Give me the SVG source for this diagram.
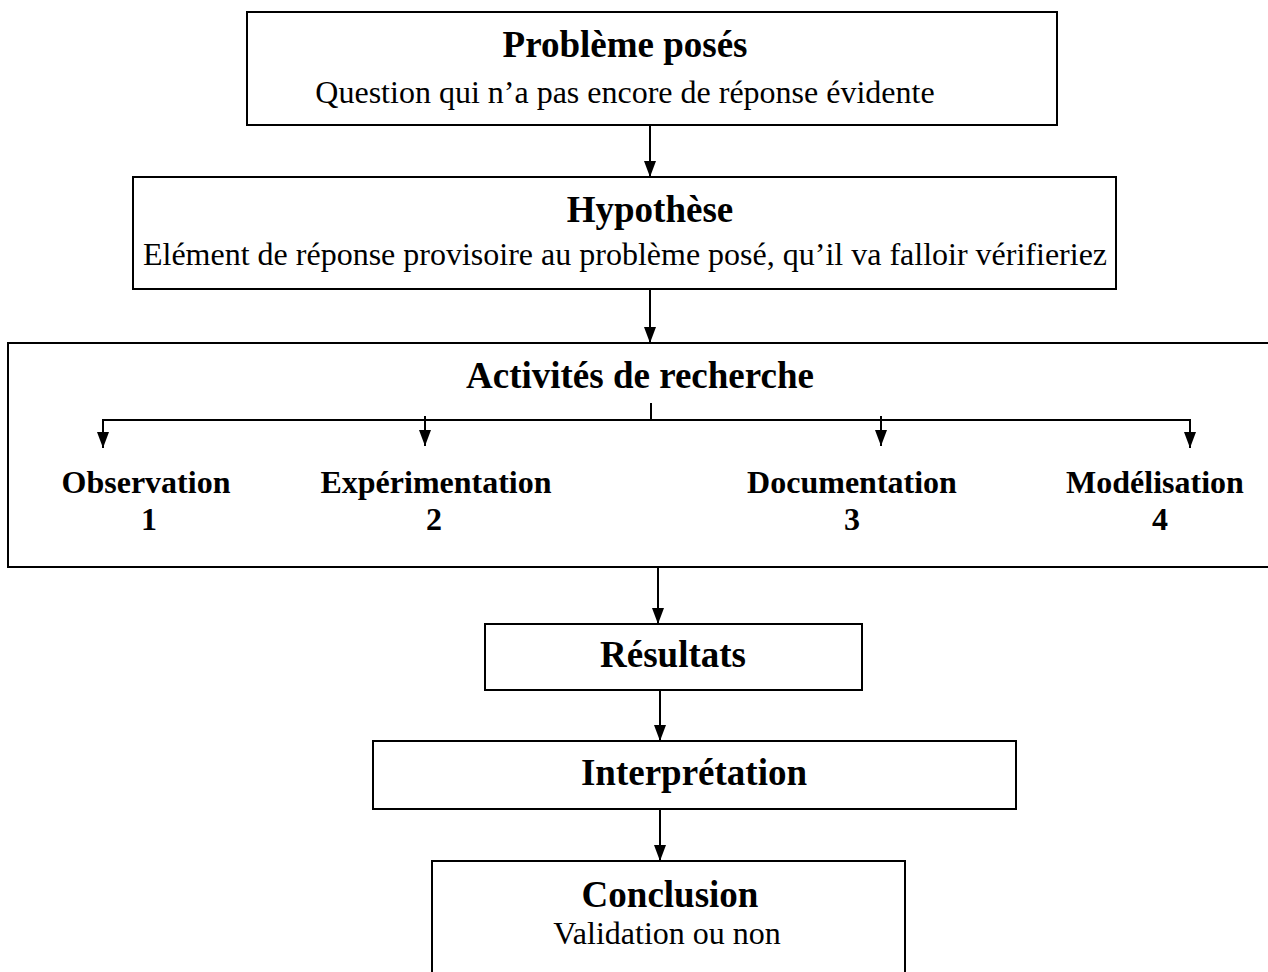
<svg xmlns="http://www.w3.org/2000/svg" width="1268" height="972" viewBox="0 0 1268 972">
<defs>
<style>
.box{fill:#fff;stroke:#000;stroke-width:2}
.t{font-family:"Liberation Serif","Times New Roman",serif;font-weight:bold;font-size:37px;text-anchor:middle;fill:#000}
.s{font-family:"Liberation Serif","Times New Roman",serif;font-size:32px;text-anchor:middle;fill:#000}
.l{font-family:"Liberation Serif","Times New Roman",serif;font-weight:bold;font-size:32px;text-anchor:middle;fill:#000}
.c{fill:none;stroke:#000;stroke-width:2}
</style>
<marker id="ah" viewBox="0 0 16 12" refX="16" refY="6" markerWidth="16" markerHeight="12" markerUnits="userSpaceOnUse" orient="auto">
<path d="M0,0 L16,6 L0,12 z" fill="#000"/>
</marker>
</defs>
<rect width="1268" height="972" fill="#fff"/>
<g id="probleme">
<rect class="box" x="247" y="12" width="810" height="113"/>
<text class="t" x="625" y="57">Problème posés</text>
<text class="s" x="625" y="103">Question qui n’a pas encore de réponse évidente</text>
</g>
<g id="hypothese">
<rect class="box" x="133" y="177" width="983" height="112"/>
<text class="t" x="650" y="222">Hypothèse</text>
<text class="s" x="625" y="265">Elément de réponse provisoire au problème posé, qu’il va falloir vérifieriez</text>
</g>
<g id="activites">
<rect class="box" x="8" y="343" width="1270" height="224"/>
<text class="t" x="640" y="388">Activités de recherche</text>
</g>
<g id="observation">
<text class="l" x="146" y="493">Observation</text>
<text class="l" x="149" y="530">1</text>
</g>
<g id="experimentation">
<text class="l" x="436" y="493">Expérimentation</text>
<text class="l" x="434" y="530">2</text>
</g>
<g id="documentation">
<text class="l" x="852" y="493">Documentation</text>
<text class="l" x="852" y="530">3</text>
</g>
<g id="modelisation">
<text class="l" x="1155" y="493">Modélisation</text>
<text class="l" x="1160" y="530">4</text>
</g>
<g id="resultats">
<rect class="box" x="485" y="624" width="377" height="66"/>
<text class="t" x="673" y="667">Résultats</text>
</g>
<g id="interpretation">
<rect class="box" x="373" y="741" width="643" height="68"/>
<text class="t" x="694" y="785">Interprétation</text>
</g>
<g id="conclusion">
<path class="box" d="M432,980 L432,861 L905,861 L905,980"/>
<text class="t" x="670" y="907">Conclusion</text>
<text class="s" x="667" y="944">Validation ou non</text>
</g>
<g id="connectors">
<line class="c" x1="650" y1="125" x2="650" y2="177" marker-end="url(#ah)"/>
<line class="c" x1="650" y1="289" x2="650" y2="343" marker-end="url(#ah)"/>
<line class="c" x1="651" y1="403" x2="651" y2="420"/>
<path class="c" d="M103,448 L103,420 L1190,420 L1190,448"/>
<line class="c" x1="103" y1="430" x2="103" y2="448" marker-end="url(#ah)"/>
<line class="c" x1="1190" y1="430" x2="1190" y2="448" marker-end="url(#ah)"/>
<line class="c" x1="425" y1="416" x2="425" y2="446" marker-end="url(#ah)"/>
<line class="c" x1="881" y1="416" x2="881" y2="446" marker-end="url(#ah)"/>
<line class="c" x1="658" y1="567" x2="658" y2="624" marker-end="url(#ah)"/>
<line class="c" x1="660" y1="690" x2="660" y2="741" marker-end="url(#ah)"/>
<line class="c" x1="660" y1="809" x2="660" y2="861" marker-end="url(#ah)"/>
</g>
</svg>
